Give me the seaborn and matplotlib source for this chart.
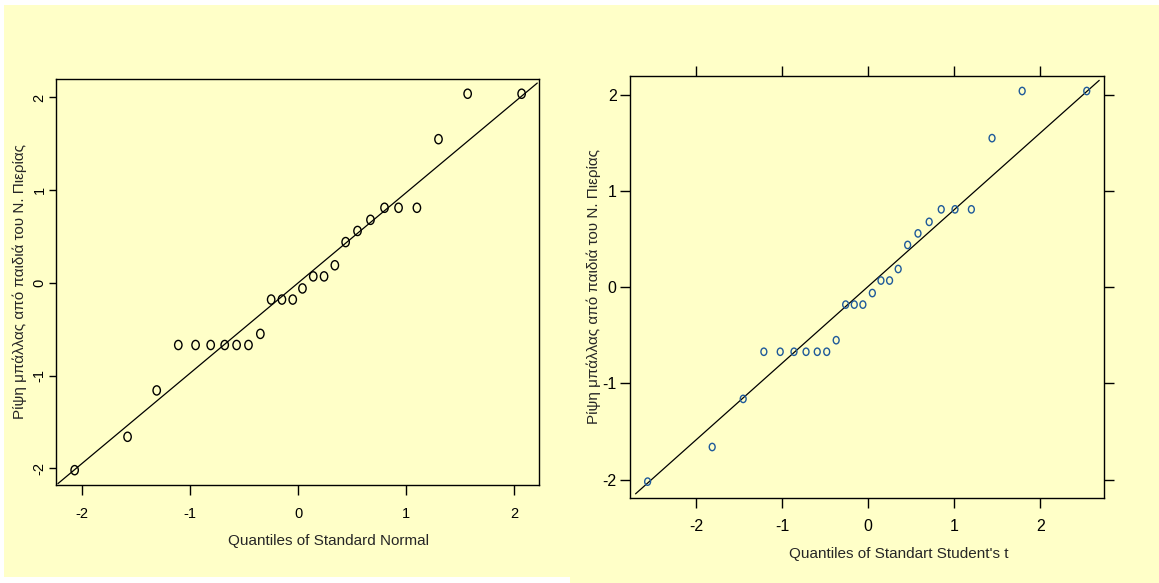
import numpy as np
import pandas as pd
import matplotlib
matplotlib.use("Agg")
import matplotlib.pyplot as plt
from matplotlib.path import Path
from matplotlib.transforms import Affine2D
from matplotlib.patches import Rectangle
import seaborn as sns

# ---- data ----
y_values = [-2.02, -1.66, -1.16, -0.67, -0.67, -0.67, -0.67, -0.67, -0.67, -0.55,
            -0.18, -0.18, -0.18, -0.06, 0.07, 0.07, 0.19, 0.44, 0.56, 0.68,
            0.81, 0.81, 0.81, 1.55, 2.04, 2.04]
normal_q = [-2.07, -1.58, -1.31, -1.11, -0.95, -0.81, -0.68, -0.57, -0.46, -0.35,
            -0.25, -0.15, -0.05, 0.04, 0.14, 0.24, 0.34, 0.44, 0.55, 0.67,
            0.80, 0.93, 1.10, 1.30, 1.57, 2.07]
t_q = [-2.56, -1.81, -1.45, -1.21, -1.02, -0.86, -0.72, -0.59, -0.48, -0.37,
       -0.26, -0.16, -0.06, 0.05, 0.15, 0.25, 0.35, 0.46, 0.58, 0.71,
       0.85, 1.01, 1.20, 1.44, 1.79, 2.54]
normal_line = (0.973, 0.0)   # slope, intercept
t_line = (0.798, 0.008)
ticks = [-2, -1, 0, 1, 2]
ylabel = "Ρίψη μπάλλας από παιδιά του Ν. Πιερίας"
xlabel_left = "Quantiles of Standard Normal"
xlabel_right = "Quantiles of Standart Student's t"

YELLOW = "#FFFFC8"
sns.set_style("ticks")
plt.rcParams['font.family'] = ['Liberation Sans', 'DejaVu Sans']
plt.rcParams['axes.linewidth'] = 1.0

W, H = 1159, 583
fig = plt.figure(figsize=(W / 100, H / 100), dpi=100, facecolor="white")
fig.patches.append(Rectangle((4 / W, (H - 577) / H), (570 - 4) / W, (577 - 5) / H,
                             transform=fig.transFigure, facecolor=YELLOW, edgecolor="none", zorder=-10))
fig.patches.append(Rectangle((570 / W, 0), (W - 570) / W, (H - 5) / H,
                             transform=fig.transFigure, facecolor=YELLOW, edgecolor="none", zorder=-10))

ell = Path.unit_circle().transformed(Affine2D().scale(0.8, 1.0))

def px_axes(x0, x1, y0, y1):
    return fig.add_axes([x0 / W, (H - y1) / H, (x1 - x0) / W, (y1 - y0) / H])

axL = px_axes(56.3, 538.9, 78.9, 485.0)
axR = px_axes(630.4, 1104.4, 75.6, 498.0)

dfL = pd.DataFrame({"q": normal_q, "y": y_values})
dfR = pd.DataFrame({"q": t_q, "y": y_values})

for ax, df, xlim, ylim, line, col, msize, fs, lm in [
        (axL, dfL, (-2.24, 2.23), (-2.18, 2.20), normal_line, "black", 44, 10.5, 0.015),
        (axR, dfR, (-2.76, 2.745), (-2.19, 2.20), t_line, "#1F5A9A", 28, 11.5, 0.06)]:
    ax.set_facecolor(YELLOW)
    sns.scatterplot(data=df, x="q", y="y", ax=ax, marker=ell, s=msize,
                    facecolor="none", edgecolor=col, linewidth=1.0, zorder=3)
    xs = np.array(xlim)
    lx = np.linspace(xs[0] + lm, xs[1] - lm, 2)
    sns.lineplot(x=lx, y=line[0] * lx + line[1], ax=ax, color="black", linewidth=0.9)
    ax.set_xlim(*xlim)
    ax.set_ylim(*ylim)
    ax.set_xticks(ticks)
    ax.set_yticks(ticks)
    ax.set_xticklabels([str(t) for t in ticks])
    ax.set_yticklabels([str(t) for t in ticks])
    for s in ax.spines.values():
        s.set_visible(True)
        s.set_color("black")
    ax.tick_params(direction="out", length=7, width=1.0, colors="black", labelsize=fs)

axL.tick_params(axis="x", pad=9)
axL.tick_params(axis="y", length=5, pad=2, labelrotation=90)
for lab in axL.get_yticklabels():
    lab.set_va("center")
axR.tick_params(axis="x", pad=8)
axR.tick_params(axis="y", pad=3)
axR.tick_params(top=True, right=True, labeltop=False, labelright=False)

axL.set_xlabel(xlabel_left, fontsize=11, va="center")
axL.xaxis.set_label_coords(0.563, -0.139)
axL.set_ylabel(ylabel, fontsize=11, va="center")
axL.yaxis.set_label_coords(-0.0752, 0.50)

axR.set_xlabel(xlabel_right, fontsize=11, va="center")
axR.xaxis.set_label_coords(0.566, -0.132)
axR.set_ylabel(ylabel, fontsize=11, va="center")
axR.yaxis.set_label_coords(-0.0768, 0.50)

fig.savefig("out.png", dpi=100, facecolor=fig.get_facecolor())
